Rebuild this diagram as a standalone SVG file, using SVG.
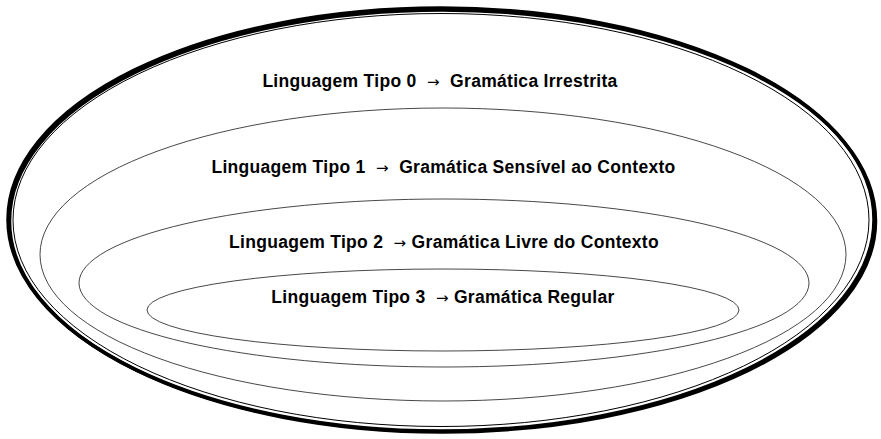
<svg xmlns="http://www.w3.org/2000/svg" width="881" height="439" viewBox="0 0 881 439">
  <style>
    .lbl { font-family: "Liberation Sans", Arial, sans-serif; font-weight: bold; font-size: 17.5px; letter-spacing: 0.3px; fill: #000; text-anchor: middle; white-space: pre; }
    .arr { font-family: "DejaVu Sans", sans-serif; font-weight: normal; font-size: 15px; }
    .ring { fill: none; stroke: #000; }
    .thin { fill: none; stroke: #333; stroke-width: 0.9; }
  </style>
  <rect width="881" height="439" fill="#fff"/>

  <!-- Type 0: outer border, heavy line with a thin inner rule -->
  <g id="tipo0">
    <ellipse class="ring" cx="442.5" cy="221" rx="433" ry="211" stroke-width="3.5"/>
    <ellipse class="ring" cx="441" cy="219.5" rx="433" ry="211.5" stroke-width="3.5"/>
    <ellipse class="ring" cx="441" cy="220" rx="428" ry="206.5" stroke-width="1"/>
    <text class="lbl" x="440" y="87">Linguagem Tipo 0  <tspan class="arr">→</tspan>  Gramática Irrestrita</text>
  </g>

  <!-- Type 1 -->
  <g id="tipo1">
    <ellipse class="thin" cx="443" cy="254.5" rx="403" ry="146.5"/>
    <text class="lbl" x="443.5" y="173">Linguagem Tipo 1  <tspan class="arr">→</tspan>  Gramática Sensível ao Contexto</text>
  </g>

  <!-- Type 2 -->
  <g id="tipo2">
    <ellipse class="thin" cx="444" cy="283" rx="365" ry="84"/>
    <text class="lbl" x="444" y="248">Linguagem Tipo 2  <tspan class="arr">→</tspan> Gramática Livre do Contexto</text>
  </g>

  <!-- Type 3 -->
  <g id="tipo3">
    <ellipse class="thin" cx="443" cy="310" rx="296" ry="41"/>
    <text class="lbl" x="443" y="303">Linguagem Tipo 3  <tspan class="arr">→</tspan> Gramática Regular</text>
  </g>

  <g id="connectors"/>
</svg>
